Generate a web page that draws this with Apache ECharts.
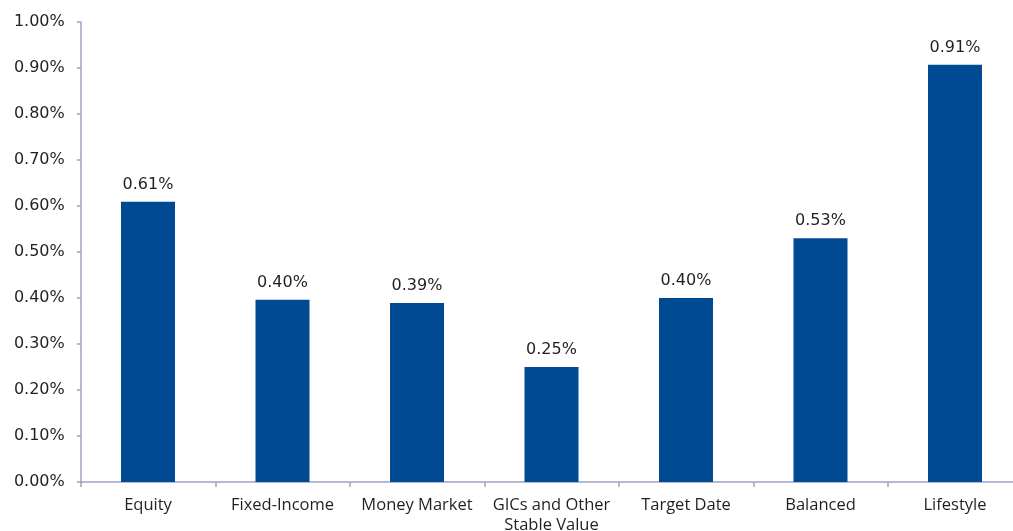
<!DOCTYPE html>
<html><head><meta charset="utf-8">
<script src="https://cdn.jsdelivr.net/npm/echarts@6/dist/echarts.min.js"></script>
<style>html,body{margin:0;padding:0;background:#fff}#c{width:1013px;height:531px}</style>
</head><body><div id="c"></div>
<script>
const categories = ["Equity","Fixed-Income","Money Market","GICs and Other\nStable Value","Target Date","Balanced","Lifestyle"];
const values = [0.609, 0.396, 0.389, 0.250, 0.400, 0.530, 0.907];
const yTicks = {min: 0, max: 1.0, interval: 0.1};
const catFont = "Open Sans";
const numFont = "DejaVu Sans";
const chart = echarts.init(document.getElementById('c'));
chart.setOption({
  animation: false,
  grid: {left: 80.75, top: 22, right: -9.25, bottom: 49, containLabel: false, outerBoundsMode: 'none'},
  xAxis: {
    type: 'category', data: categories,
    axisLine: {lineStyle: {color: '#9ea2c2', width: 1.5}},
    axisTick: {show: true, length: 5, lineStyle: {color: '#9ea2c2', width: 1.5}},
    axisLabel: {color: '#231f20', fontSize: 16.5, fontFamily: catFont, margin: 13, lineHeight: 20, interval: 0}
  },
  yAxis: {
    type: 'value', min: yTicks.min, max: yTicks.max, interval: yTicks.interval,
    splitLine: {show: false},
    axisLine: {show: true, lineStyle: {color: '#9ea2c2', width: 1.5}},
    axisTick: {show: true, length: 4, lineStyle: {color: '#9ea2c2', width: 1.5}},
    axisLabel: {color: '#231f20', fontSize: 16, fontFamily: numFont, margin: 16,
      formatter: v => v.toFixed(2) + '%'}
  },
  series: [{
    type: 'bar', data: values, barWidth: 54,
    itemStyle: {color: '#004a93'},
    label: {show: true, position: 'top', distance: 9, color: '#231f20', fontSize: 16, fontFamily: numFont,
      formatter: p => p.value.toFixed(2) + '%'}
  }]
});
</script></body></html>
